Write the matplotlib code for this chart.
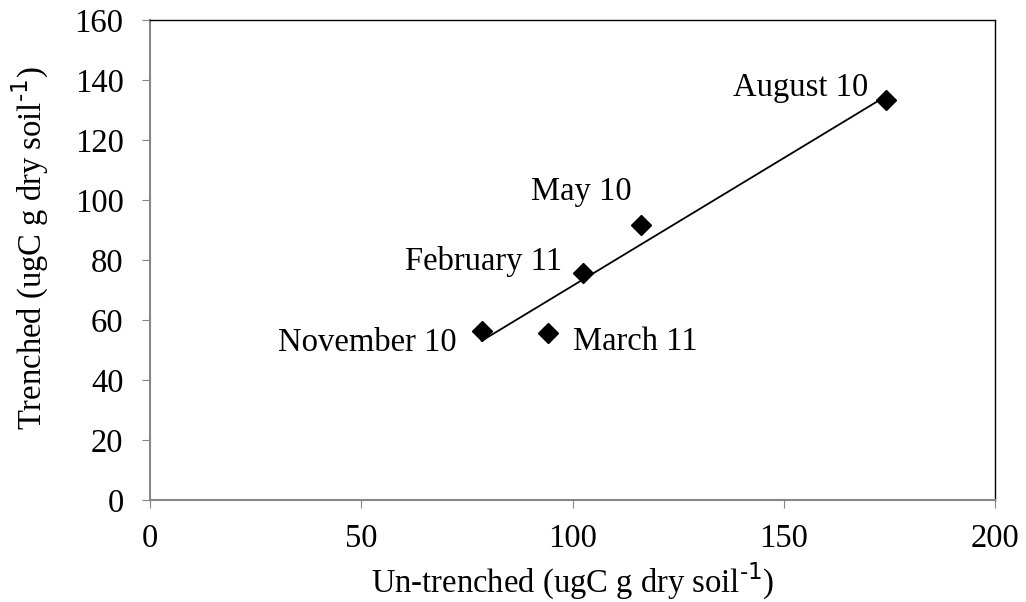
import numpy as np
import matplotlib
matplotlib.use('Agg')
import matplotlib.pyplot as plt

plt.rcParams['font.family'] = ['Liberation Serif', 'DejaVu Serif']

# values
months = ['August 10', 'May 10', 'February 11', 'November 10', 'March 11']
untrenched = [174.3, 116.1, 102.6, 78.5, 94.1]
trenched = [133.3, 91.7, 75.8, 56.4, 55.6]
# label offsets in pixels (dx, dy, ha)
label_pos = [(-18, 12, 'right'), (-9, 33, 'right'), (-21, 11, 'right'),
             (-25, -12, 'right'), (25, -9, 'left')]

fs = 23.5
sup = '$^{\\mathregular{\\text{-1}}}$'

fig = plt.figure(figsize=(10.26, 6.02), dpi=100)
ax = fig.add_axes([0.1462, 0.1694, 0.8236, 0.7974])

x = np.array(untrenched)
y = np.array(trenched)
k, b = np.polyfit(x, y, 1)
xs = np.array([x.min(), x.max()])
ax.plot(xs, k * xs + b, color='black', lw=1.3, zorder=2)
ax.plot(x, y, 'D', color='black', markersize=10, zorder=3)

for m, xi, yi, (dx, dy, ha) in zip(months, untrenched, trenched, label_pos):
    ax.annotate(m, (xi, yi), xytext=(dx, dy), textcoords='offset pixels',
                ha=ha, va='center', fontsize=fs)

ax.set_xlim(0, 200)
ax.set_ylim(0, 160)
ax.set_xticks([0, 50, 100, 150, 200])
ax.set_yticks(range(0, 161, 20))
ax.tick_params(labelsize=fs, direction='out', length=6, color='#868686')
ax.tick_params(axis='x', pad=11)
ax.tick_params(axis='y', pad=13)
for s in ['left', 'bottom']:
    ax.spines[s].set_color('#868686')
    ax.spines[s].set_linewidth(1.5)
for s in ['top', 'right']:
    ax.spines[s].set_color('black')
    ax.spines[s].set_linewidth(1.0)

ax.set_xlabel('Un-trenched (ugC g dry soil' + sup + ')', fontsize=fs, labelpad=5)
ax.set_ylabel('Trenched (ugC g dry soil' + sup + ')', fontsize=fs, labelpad=17, y=0.525)

fig.savefig('out.png', dpi=100)
